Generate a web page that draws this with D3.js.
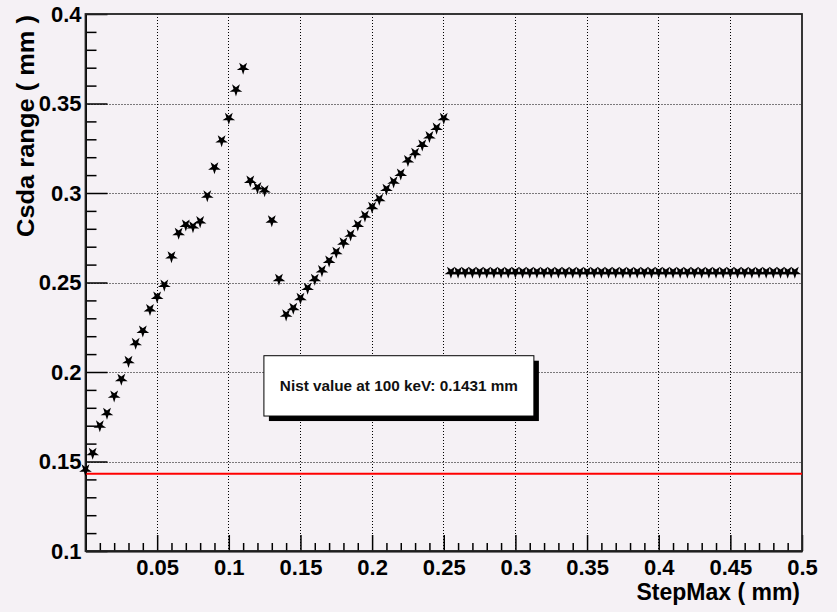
<!DOCTYPE html>
<html>
<head>
<meta charset="utf-8">
<script src="https://cdn.jsdelivr.net/npm/d3@7"></script>
<style>
  body { margin: 0; background: #f5f1f5; }
  text { font-family: "Liberation Sans", Arial, Helvetica, sans-serif; font-weight: bold; }
</style>
</head>
<body>
<div id="chart"></div>
<script>
// StepMax (mm) for each run
const stepMax = [
  0, 0.005, 0.01, 0.015, 0.02, 0.025, 0.03, 0.035, 0.04, 0.045,
  0.05, 0.055, 0.06, 0.065, 0.07, 0.075, 0.08, 0.085, 0.09, 0.095,
  0.1, 0.105, 0.11, 0.115, 0.12, 0.125, 0.13, 0.135, 0.14, 0.145,
  0.15, 0.155, 0.16, 0.165, 0.17, 0.175, 0.18, 0.185, 0.19, 0.195,
  0.2, 0.205, 0.21, 0.215, 0.22, 0.225, 0.23, 0.235, 0.24, 0.245,
  0.25, 0.255, 0.26, 0.265, 0.27, 0.275, 0.28, 0.285, 0.29, 0.295,
  0.3, 0.305, 0.31, 0.315, 0.32, 0.325, 0.33, 0.335, 0.34, 0.345,
  0.35, 0.355, 0.36, 0.365, 0.37, 0.375, 0.38, 0.385, 0.39, 0.395,
  0.4, 0.405, 0.41, 0.415, 0.42, 0.425, 0.43, 0.435, 0.44, 0.445,
  0.45, 0.455, 0.46, 0.465, 0.47, 0.475, 0.48, 0.485, 0.49, 0.495
];

// Csda range (mm)
const csdaRange = [
  0.1454, 0.1547, 0.170, 0.177, 0.1867, 0.196, 0.206, 0.2161, 0.223, 0.235,
  0.242, 0.2486, 0.2645, 0.2776, 0.2822, 0.2813, 0.2841, 0.2985, 0.3142, 0.3293,
  0.3418, 0.3577, 0.3698, 0.3068, 0.3031, 0.3014, 0.2846, 0.2519, 0.2320, 0.2357,
  0.2413, 0.2469, 0.2519, 0.2567, 0.2621, 0.2670, 0.2723, 0.2767, 0.2822, 0.2873,
  0.2921, 0.2966, 0.3022, 0.3063, 0.3107, 0.3182, 0.3223, 0.3269, 0.3316, 0.3363,
  0.3418, 0.2558, 0.2558, 0.2558, 0.2558, 0.2558, 0.2558, 0.2558, 0.2558, 0.2558,
  0.2558, 0.2558, 0.2558, 0.2558, 0.2558, 0.2558, 0.2558, 0.2558, 0.2558, 0.2558,
  0.2558, 0.2558, 0.2558, 0.2558, 0.2558, 0.2558, 0.2558, 0.2558, 0.2558, 0.2558,
  0.2558, 0.2558, 0.2558, 0.2558, 0.2558, 0.2558, 0.2558, 0.2558, 0.2558, 0.2558,
  0.2558, 0.2558, 0.2558, 0.2558, 0.2558, 0.2558, 0.2558, 0.2558, 0.2558, 0.2558
];

const xTicks = [0.05, 0.1, 0.15, 0.2, 0.25, 0.3, 0.35, 0.4, 0.45, 0.5];
const yTicks = [0.1, 0.15, 0.2, 0.25, 0.3, 0.35, 0.4];

const nistValue = 0.1431;
const nistLabel = 'Nist value at 100 keV: 0.1431 mm';
// pave position in axis units: [x0, x1], [y0, y1]
const paveX = [0.1245, 0.3129];
const paveY = [0.2091, 0.1754];

const width = 837, height = 612;
const margin = { top: 14, right: 35, bottom: 61, left: 85.5 };
const w = width - margin.left - margin.right;
const h = height - margin.top - margin.bottom;

const x = d3.scaleLinear().domain([0, 0.5]).range([0, w]);
const y = d3.scaleLinear().domain([0.1, 0.4]).range([h, 0]);

const svg = d3.select('#chart').append('svg')
  .attr('width', width)
  .attr('height', height)
  .style('background', '#f5f1f5');

const g = svg.append('g')
  .attr('transform', `translate(${margin.left},${margin.top})`);

// grid (dotted)
g.append('g').selectAll('line')
  .data(xTicks.filter(d => d < 0.5))
  .enter().append('line')
    .attr('x1', d => Math.round(x(d))).attr('x2', d => Math.round(x(d)))
    .attr('y1', 0).attr('y2', h)
    .attr('stroke', '#000').attr('stroke-width', 1)
    .attr('stroke-dasharray', '1,2');

g.append('g').selectAll('line')
  .data(yTicks.filter(d => d > 0.1 && d < 0.4))
  .enter().append('line')
    .attr('x1', 0).attr('x2', w)
    .attr('y1', d => Math.round(y(d)) + 0.5).attr('y2', d => Math.round(y(d)) + 0.5)
    .attr('stroke', '#000').attr('stroke-width', 1)
    .attr('stroke-dasharray', '1,2');

// minor ticks
const minorX = d3.range(1, 50).map(i => i / 100).filter(v => Math.round(v * 100) % 5 !== 0);
const minorY = d3.range(11, 40).map(i => i / 100).filter(v => Math.round(v * 100) % 5 !== 0);

g.append('g')
  .attr('transform', `translate(0,${h})`)
  .call(d3.axisBottom(x).tickValues(minorX).tickSizeInner(-8).tickSizeOuter(0).tickFormat(''))
  .call(a => a.select('.domain').remove())
  .selectAll('line').attr('stroke', '#000').attr('stroke-width', 1.5);

g.append('g')
  .call(d3.axisLeft(y).tickValues(minorY).tickSizeInner(-11).tickSizeOuter(0).tickFormat(''))
  .call(a => a.select('.domain').remove())
  .selectAll('line').attr('stroke', '#000').attr('stroke-width', 1.5);

// major axes
const xAxis = g.append('g')
  .attr('transform', `translate(0,${h})`)
  .call(d3.axisBottom(x).tickValues(xTicks).tickSizeInner(-16).tickSizeOuter(0).tickPadding(8)
    .tickFormat(d3.format('~g')));
xAxis.select('.domain').attr('stroke', '#000').attr('stroke-width', 2);
xAxis.selectAll('line').attr('stroke', '#000').attr('stroke-width', 1.5);
xAxis.selectAll('text').attr('font-size', 22).attr('fill', '#000')
  .style('font-family', '"Liberation Sans", Arial, sans-serif').style('font-weight', 'bold');

const yAxis = g.append('g')
  .call(d3.axisLeft(y).tickValues(yTicks).tickSizeInner(-22).tickSizeOuter(0).tickPadding(4)
    .tickFormat(d3.format('~g')));
yAxis.select('.domain').attr('stroke', '#000').attr('stroke-width', 2);
yAxis.selectAll('line').attr('stroke', '#000').attr('stroke-width', 1.5);
yAxis.selectAll('text').attr('font-size', 22).attr('fill', '#000')
  .style('font-family', '"Liberation Sans", Arial, sans-serif').style('font-weight', 'bold');

// frame
g.append('rect')
  .attr('x', 0).attr('y', 0).attr('width', w).attr('height', h)
  .attr('fill', 'none').attr('stroke', '#222').attr('stroke-width', 1.8);

// NIST reference line
g.append('line')
  .attr('x1', x(0)).attr('x2', x(0.5))
  .attr('y1', y(nistValue)).attr('y2', y(nistValue))
  .attr('stroke', '#ff0000').attr('stroke-width', 2);

// markers
const star = d3.symbol().type(d3.symbolStar).size(50);
g.append('g').selectAll('path')
  .data(stepMax.map((d, i) => ({ x: d, y: csdaRange[i] })))
  .enter().append('path')
    .attr('d', star)
    .attr('transform', d => `translate(${x(d.x)},${y(d.y)}) rotate(180)`)
    .attr('fill', '#000');

// pave with shadow
const px0 = x(paveX[0]), px1 = x(paveX[1]);
const py0 = y(paveY[0]), py1 = y(paveY[1]);
g.append('rect')
  .attr('x', px0 + 5).attr('y', py0 + 5)
  .attr('width', px1 - px0).attr('height', py1 - py0)
  .attr('fill', '#000');
g.append('rect')
  .attr('x', px0).attr('y', py0)
  .attr('width', px1 - px0).attr('height', py1 - py0)
  .attr('fill', '#fff').attr('stroke', '#000').attr('stroke-width', 1);
g.append('text')
  .attr('x', (px0 + px1) / 2)
  .attr('y', (py0 + py1) / 2 + 5.5)
  .attr('text-anchor', 'middle')
  .attr('font-size', 15.3)
  .attr('fill', '#111')
  .text(nistLabel);

// axis titles
svg.append('text')
  .attr('x', margin.left + w - 2)
  .attr('y', 600)
  .attr('text-anchor', 'end')
  .attr('font-size', 23)
  .attr('fill', '#000')
  .text('StepMax ( mm)');

svg.append('text')
  .attr('transform', `translate(34,${margin.top + 1}) rotate(-90)`)
  .attr('text-anchor', 'end')
  .attr('font-size', 23)
  .attr('textLength', 222)
  .attr('lengthAdjust', 'spacingAndGlyphs')
  .attr('fill', '#000')
  .text('Csda range ( mm )');
</script>
</body>
</html>
